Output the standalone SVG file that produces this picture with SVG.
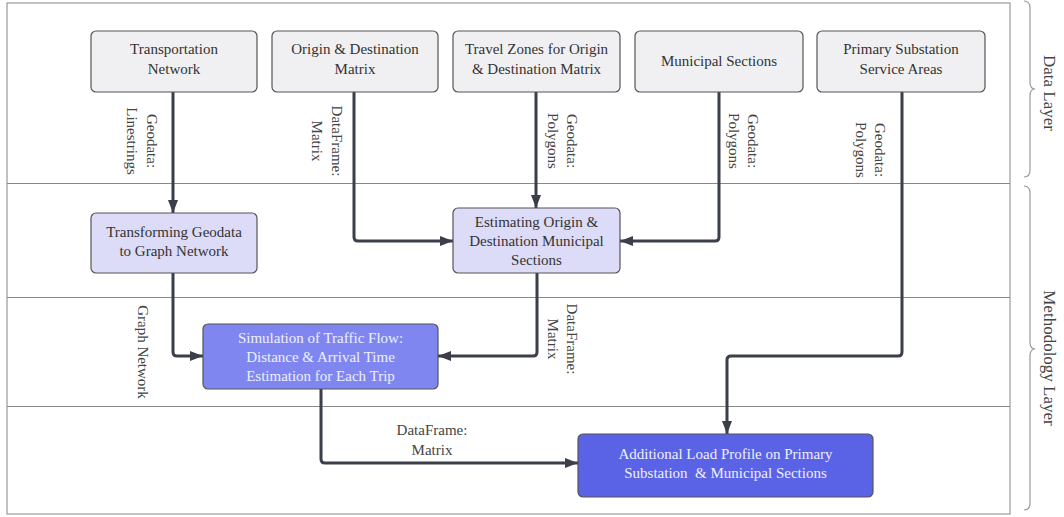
<svg xmlns="http://www.w3.org/2000/svg" width="1064" height="517" viewBox="0 0 1064 517">
<style>
text{font-family:"Liberation Serif","Times New Roman",serif;font-size:15px;}
.bt{fill:#333;text-anchor:middle;}
.wt{fill:#eef0ff;text-anchor:middle;}
.lb{fill:#444;text-anchor:middle;}
.ly{fill:#444;text-anchor:middle;font-size:17px;}
.data{fill:#f0f0f2;stroke:#555;stroke-width:1.2;}
.meth{fill:#dcdcf8;stroke:#555;stroke-width:1.2;}
.sim{fill:#7f86f0;stroke:#555;stroke-width:1.2;}
.add{fill:#5a62e6;stroke:#555;stroke-width:1.2;}
.conn{fill:none;stroke:#3a3f4a;stroke-width:3;stroke-linejoin:round;marker-end:url(#ah);}
.sep{stroke:#888;stroke-width:1;}
.brace{fill:none;stroke:#999;stroke-width:1.2;}
</style>
<defs>
<marker id="ah" markerUnits="userSpaceOnUse" markerWidth="14" markerHeight="12" refX="13" refY="6" orient="auto">
<path d="M0,1 L13,6 L0,11 z" fill="#3a3f4a"/>
</marker>
</defs>
<rect x="0" y="0" width="1064" height="517" fill="#fff"/>
<g id="frame">
<rect x="7" y="3" width="1003" height="511" fill="none" stroke="#999" stroke-width="1.2"/>
<line class="sep" x1="7" y1="183.5" x2="1010" y2="183.5"/>
<line class="sep" x1="7" y1="297.5" x2="1010" y2="297.5" stroke="#aaa"/>
<line class="sep" x1="7" y1="406.5" x2="1010" y2="406.5"/>
</g>
<g id="layers">
<path class="brace" d="M1024,1 Q1030,1 1030,8 V82 Q1030,89 1035,89 Q1030,89 1030,96 V170 Q1030,177 1024,177"/>
<path class="brace" d="M1024,186 Q1030,186 1030,193 V342 Q1030,349 1035,349 Q1030,349 1030,356 V503 Q1030,510 1024,510"/>
<text class="ly" transform="translate(1044,93) rotate(90)">Data Layer</text>
<text class="ly" transform="translate(1044,358) rotate(90)">Methodology Layer</text>
</g>
<g id="connectors">
<path class="conn" d="M173,92 V213"/>
<path class="conn" d="M354,92 V237 Q354,241 358,241 H453"/>
<path class="conn" d="M536,92 V208"/>
<path class="conn" d="M719,92 V237 Q719,241 715,241 H620"/>
<path class="conn" d="M902,92 V352 Q902,356 898,356 H731 Q727,356 727,360 V434"/>
<path class="conn" d="M173,273 V352 Q173,356 177,356 H203"/>
<path class="conn" d="M537,273 V352 Q537,356 533,356 H438"/>
<path class="conn" d="M321,389 V459 Q321,463 325,463 H578"/>
</g>
<g id="connector-labels">
<text class="lb" transform="translate(147,141) rotate(90)"><tspan x="0" y="0">Geodata:</tspan><tspan x="0" y="20">Linestrings</tspan></text>
<text class="lb" transform="translate(332,141) rotate(90)"><tspan x="0" y="0">DataFrame:</tspan><tspan x="0" y="20">Matrix</tspan></text>
<text class="lb" transform="translate(567,141) rotate(90)"><tspan x="0" y="0">Geodata:</tspan><tspan x="0" y="19">Polygons</tspan></text>
<text class="lb" transform="translate(748,141) rotate(90)"><tspan x="0" y="0">Geodata:</tspan><tspan x="0" y="19">Polygons</tspan></text>
<text class="lb" transform="translate(875,150) rotate(90)"><tspan x="0" y="0">Geodata:</tspan><tspan x="0" y="19">Polygons</tspan></text>
<text class="lb" transform="translate(138,352) rotate(90)">Graph Network</text>
<text class="lb" transform="translate(567,339) rotate(90)"><tspan x="0" y="0">DataFrame:</tspan><tspan x="0" y="19">Matrix</tspan></text>
<text class="lb"><tspan x="432" y="435">DataFrame:</tspan><tspan x="432" y="455">Matrix</tspan></text>
</g>
<g id="transportation-network">
<rect class="data" x="91" y="31" width="166" height="61" rx="5"/>
<text class="bt"><tspan x="174" y="54">Transportation</tspan><tspan x="174" y="74">Network</tspan></text>
</g>
<g id="od-matrix">
<rect class="data" x="272" y="31" width="166" height="61" rx="5"/>
<text class="bt"><tspan x="355" y="54">Origin &amp; Destination</tspan><tspan x="355" y="74">Matrix</tspan></text>
</g>
<g id="travel-zones">
<rect class="data" x="453" y="31" width="167" height="61" rx="5"/>
<text class="bt"><tspan x="536.5" y="54">Travel Zones for Origin</tspan><tspan x="536.5" y="74">&amp; Destination Matrix</tspan></text>
</g>
<g id="municipal-sections">
<rect class="data" x="635" y="31" width="168" height="61" rx="5"/>
<text class="bt"><tspan x="719" y="66">Municipal Sections</tspan></text>
</g>
<g id="primary-substation">
<rect class="data" x="817" y="31" width="168" height="61" rx="5"/>
<text class="bt"><tspan x="901" y="54">Primary Substation</tspan><tspan x="901" y="74">Service Areas</tspan></text>
</g>
<g id="transforming-geodata">
<rect class="meth" x="91" y="213" width="166" height="60" rx="5"/>
<text class="bt"><tspan x="174" y="237">Transforming Geodata</tspan><tspan x="174" y="256">to Graph Network</tspan></text>
</g>
<g id="estimating-od">
<rect class="meth" x="453" y="208" width="167" height="65" rx="5"/>
<text class="bt"><tspan x="536.5" y="227">Estimating Origin &amp;</tspan><tspan x="536.5" y="246">Destination Municipal</tspan><tspan x="536.5" y="265">Sections</tspan></text>
</g>
<g id="simulation">
<rect class="sim" x="203" y="324" width="235" height="65" rx="5"/>
<text class="wt"><tspan x="320.5" y="343">Simulation of Traffic Flow:</tspan><tspan x="320.5" y="362">Distance &amp; Arrival Time</tspan><tspan x="320.5" y="381">Estimation for Each Trip</tspan></text>
</g>
<g id="additional-load">
<rect class="add" x="578" y="434" width="295" height="63" rx="5"/>
<text class="wt" style="white-space:pre"><tspan x="725.5" y="459">Additional Load Profile on Primary</tspan><tspan x="725.5" y="478">Substation  &amp; Municipal Sections</tspan></text>
</g>
</svg>
